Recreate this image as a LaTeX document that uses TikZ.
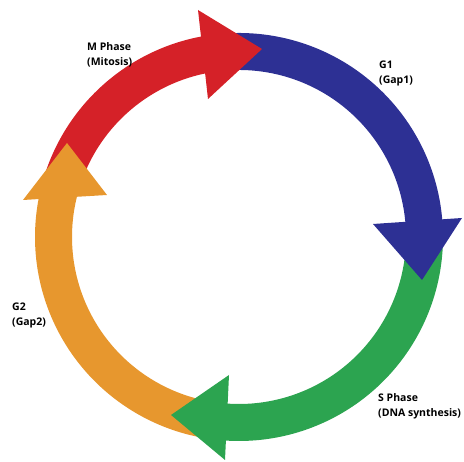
\documentclass[tikz,border=0pt]{standalone}
\usepackage{fontspec}
\setmainfont{Open Sans}
\usepackage{tikz}
\usetikzlibrary{positioning}

\definecolor{mred}{RGB}{213,33,40}
\definecolor{gblue}{RGB}{45,48,148}
\definecolor{sgreen}{RGB}{44,164,80}
\definecolor{gorange}{RGB}{231,151,46}

\begin{document}
\begin{tikzpicture}[x=1pt,y=1pt,
        band/.style={line width=37pt},
        phase/.style={font=\fontsize{10.5}{15}\selectfont\bfseries,align=left,inner sep=0pt,anchor=north west}]
    \useasboundingbox (0,0) rectangle (464,462);
    \coordinate (c) at (239,225);
    \begin{scope}[shift={(c)}]
        % bands of the ring
        \draw[band,gblue] (96:185.5) arc[start angle=96,end angle=0,radius=185.5pt];
        \draw[band,sgreen] (0:185.5) arc[start angle=0,end angle=-99,radius=185.5pt];
        \draw[band,gorange] (261:185.5) arc[start angle=261,end angle=162,radius=185.5pt];
        \draw[band,mred] (162:185.5) arc[start angle=162,end angle=96,radius=185.5pt];
    \end{scope}
    % arrow heads
    \fill[gblue] (373,238) -- (462,244) -- (422,182) -- cycle;
    \fill[sgreen] (229,87) -- (225,2) -- (171,47) -- cycle;
    \fill[gorange] (23,262) -- (107,267) -- (67,319) -- cycle;
    \fill[mred] (198,452) -- (208,363) -- (262,413) -- cycle;
    \node (mphase) [phase] at (87,420) {M Phase\\(Mitosis)};
    \node (gone) [phase] at (379,401) {G1\\(Gap1)};
    \node (sphase) [phase] at (378,69) {S Phase\\(DNA synthesis)};
    \node (gtwo) [phase] at (12,159) {G2\\(Gap2)};
\end{tikzpicture}
\end{document}
